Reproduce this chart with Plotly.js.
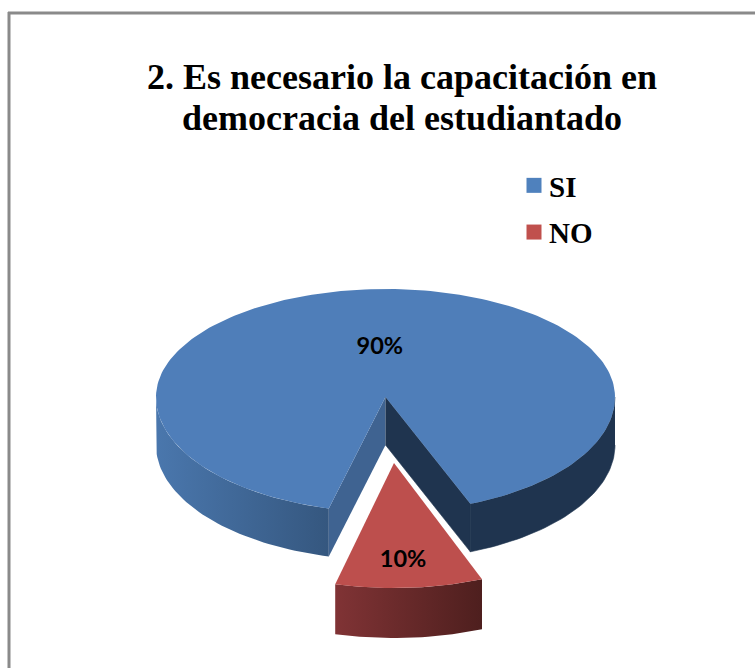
<!DOCTYPE html>
<html>
<head>
<meta charset="utf-8">
<script src="https://cdn.plot.ly/plotly-3.0.1.min.js"></script>
<style>html,body{margin:0;padding:0;background:#fff}#chart{width:755px;height:668px}</style>
</head>
<body>
<div id="chart"></div>
<script>
// Data
const categories = ['SI', 'NO'];
const values = [90, 10];
const titleLines = ['2. Es necesario la capacitación en', 'democracia del estudiantado'];

// Styling / projection of the tilted pie (pixel space of the hidden axes)
const topColors = ['#4f7eb9', '#bd4f4d'];
const legendColors = ['#4f81bd', '#c0504d'];
const rotation = 194.3;
const W = 755, H = 668;
const pie = [
  {cx: 385.5, cy: 397, rx: 229.5, ryBack: 108, ryFront: 115, depth: 48, labelR: 0.45, labelDx: 1},
  {cx: 394, cy: 463, rx: 238, ryBack: 118, ryFront: 125, depth: 50, labelR: 0.79, labelDx: -3}
];

const rad = d => d * Math.PI / 180;
function pt(p, deg, dz) {
  const s = Math.sin(rad(deg)), c = Math.cos(rad(deg));
  return [p.cx + p.rx * s, p.cy - (c > 0 ? p.ryBack : p.ryFront) * c + (dz || 0)];
}
function arc(p, a0, a1, dz) {
  const n = Math.max(2, Math.ceil(Math.abs(a1 - a0) / 1.5)), out = [];
  for (let i = 0; i <= n; i++) out.push(pt(p, a0 + (a1 - a0) * i / n, dz));
  return out;
}
function poly(name, pts, color, gradient, lineWidth) {
  const t = {
    type: 'scatter', mode: 'lines', name: name, showlegend: false, hoverinfo: 'skip',
    x: pts.map(q => q[0]), y: pts.map(q => q[1]),
    fill: 'toself', line: {width: lineWidth || 0, color: color}, fillcolor: color
  };
  if (gradient) t.fillgradient = {type: 'horizontal', colorscale: [[0, gradient[0]], [1, gradient[1]]]};
  return t;
}
function wall(name, p, a0, a1, color, gradient, lineWidth) {
  return poly(name, arc(p, a0, a1, 0).concat(arc(p, a1, a0, p.depth)), color, gradient, lineWidth);
}

const total = values.reduce((a, b) => a + b, 0);
const start0 = rotation, end0 = start0 + values[0] / total * 360;
const start1 = end0, end1 = start1 + values[1] / total * 360;
const b = pie[0], r = pie[1];
const bc = [b.cx, b.cy];

const traces = [
  // blue outer walls
  wall('SI wall left', b, start0, 270, '#35577f', ['#4a77ad', '#35577f']),
  wall('SI wall right', b, 450, end0, '#1f344f', null, 0.6),
  // blue inner cut walls
  poly('SI cut left', [bc, pt(b, start0), pt(b, start0, b.depth), [b.cx, b.cy + b.depth]], '#3f6391'),
  poly('SI cut right', [bc, pt(b, end0), pt(b, end0, b.depth), [b.cx, b.cy + b.depth]], '#1f344f', null, 0.6),
  // blue top
  poly('SI top', [bc].concat(arc(b, start0, end0)).concat([bc]), topColors[0]),
  // red wall and top
  wall('NO wall', r, start1, end1, '#652a2a', ['#803335', '#4e1f1e']),
  poly('NO top', [[r.cx, r.cy]].concat(arc(r, start1, end1)).concat([[r.cx, r.cy]]), topColors[1])
];

// percentage labels
const mids = [(start0 + end0) / 2, (start1 + end1) / 2];
traces.push({
  type: 'scatter', mode: 'text', showlegend: false, hoverinfo: 'skip',
  x: pie.map((p, i) => p.cx + p.labelDx + p.rx * p.labelR * Math.sin(rad(mids[i]))),
  y: pie.map((p, i) => p.cy - (Math.cos(rad(mids[i])) > 0 ? p.ryBack : p.ryFront) * p.labelR * Math.cos(rad(mids[i]))),
  text: values.map(v => Math.round(v / total * 100) + '%'),
  textposition: 'middle center',
  textfont: {family: 'Lato, sans-serif', size: 23.5, color: '#000', weight: 700}
});

// legend entries
categories.forEach((c, i) => traces.push({
  type: 'scatter', mode: 'markers', name: c, legendgroup: c, showlegend: true, hoverinfo: 'skip',
  x: [null], y: [null],
  marker: {symbol: 'square', size: 15, color: legendColors[i]}
}));

const layout = {
  width: W, height: H,
  margin: {l: 0, r: 0, t: 0, b: 0},
  paper_bgcolor: '#fff', plot_bgcolor: '#fff',
  xaxis: {range: [0, W], visible: false, fixedrange: true},
  yaxis: {range: [H, 0], visible: false, fixedrange: true},
  title: {
    text: titleLines.join('<br>'),
    font: {family: '"Liberation Serif", serif', size: 36, color: '#000', weight: 700},
    x: 402 / W, xanchor: 'center', y: 1 - 89 / H, yanchor: 'top'
  },
  legend: {
    x: 509 / W, xanchor: 'left', y: 1 - 160 / H, yanchor: 'top',
    bgcolor: 'rgba(0,0,0,0)', traceorder: 'grouped', tracegroupgap: 6,
    font: {family: '"Liberation Serif", serif', size: 29, color: '#000', weight: 700}
  },
  shapes: [
    {type: 'line', xref: 'x', yref: 'y', x0: 9, x1: 9, y0: 12, y1: H, line: {color: '#8a8a8a', width: 3}},
    {type: 'line', xref: 'x', yref: 'y', x0: 8, x1: W, y0: 13, y1: 13, line: {color: '#8a8a8a', width: 3}}
  ]
};

Plotly.newPlot('chart', traces, layout, {displayModeBar: false, staticPlot: true}).then(() => {
  document.querySelectorAll('.legendpoints').forEach(g => g.setAttribute('transform', 'translate(5,0)'));
  const second = document.querySelector('.gtitle tspan.line:nth-of-type(2)');
  if (second) second.setAttribute('dy', '1.14em');
});
</script>
</body>
</html>
